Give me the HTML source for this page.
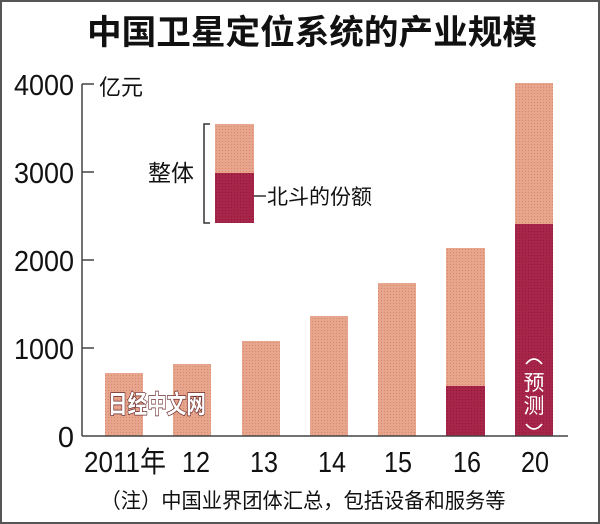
<!DOCTYPE html>
<html><head><meta charset="utf-8"><style>
body{margin:0;background:#fff}
svg{display:block}
text{font-family:"Liberation Sans","Noto Sans CJK SC",sans-serif}
</style></head><body>
<svg width="600" height="524" viewBox="0 0 600 524">
<defs>
<pattern id="lp" width="3" height="3" patternUnits="userSpaceOnUse"><rect width="3" height="3" fill="#e6a58c"/><rect width="1" height="1" fill="#d8886d"/></pattern>
<pattern id="dp" width="3" height="3" patternUnits="userSpaceOnUse"><rect width="3" height="3" fill="#a8254a"/><rect width="1" height="1" fill="#8e1a3c"/></pattern>
</defs>
<rect x="1" y="1" width="598" height="522" fill="#fff" stroke="#555" stroke-width="2"/>
<text x="312" y="44" font-size="34" font-weight="bold" text-anchor="middle" fill="#111" textLength="450" lengthAdjust="spacingAndGlyphs">中国卫星定位系统的产业规模</text>
<g font-size="29" fill="#111" text-anchor="end">
<text x="74" y="95" textLength="60" lengthAdjust="spacingAndGlyphs">4000</text><text x="74" y="183" textLength="60" lengthAdjust="spacingAndGlyphs">3000</text><text x="74" y="271" textLength="60" lengthAdjust="spacingAndGlyphs">2000</text><text x="74" y="359" textLength="60" lengthAdjust="spacingAndGlyphs">1000</text><text x="74" y="447">0</text>
</g>
<text x="99" y="95" font-size="22" fill="#111">亿元</text>
<g stroke="#444" stroke-width="1.5">
<line x1="82" y1="84" x2="82" y2="436"/>
<line x1="82" y1="84" x2="94" y2="84"/><line x1="82" y1="172" x2="94" y2="172"/><line x1="82" y1="260" x2="94" y2="260"/><line x1="82" y1="348" x2="94" y2="348"/>
</g>
<g fill="url(#lp)">
<rect x="105" y="373" width="38" height="63"/>
<rect x="173" y="364" width="38" height="72"/>
<rect x="242" y="341" width="38" height="95"/>
<rect x="310" y="316" width="38" height="120"/>
<rect x="378" y="283" width="38" height="153"/>
<rect x="446" y="248" width="39" height="138"/>
<rect x="515" y="83" width="38" height="141"/>
<rect x="215" y="124" width="39" height="49"/>
</g>
<g fill="url(#dp)">
<rect x="446" y="386" width="39" height="50"/>
<rect x="515" y="224" width="38" height="212"/>
<rect x="215" y="173" width="39" height="50"/>
</g>
<line x1="82" y1="436" x2="568" y2="436" stroke="#444" stroke-width="1.5"/>
<g fill="none" stroke="#fff" stroke-width="1.8">
<path d="M526 364 Q534 354 542 364"/>
<path d="M526 424 Q534 434 542 424"/>
</g>
<g fill="#fff" font-size="21" text-anchor="middle">
<text x="534" y="390">预</text><text x="534" y="413">测</text>
</g>
<text x="157" y="413" font-size="25" font-weight="bold" fill="#fff" stroke="#6a2b2b" stroke-width="1.5" text-anchor="middle" paint-order="stroke" textLength="98" lengthAdjust="spacingAndGlyphs">日经中文网</text>
<path d="M210 124H204V223H210" fill="none" stroke="#333" stroke-width="1.5"/>
<line x1="254" y1="196" x2="266" y2="196" stroke="#333" stroke-width="1.5"/>
<text x="148" y="181" font-size="23" fill="#111">整体</text>
<text x="267" y="204" font-size="21" fill="#111">北斗的份额</text>
<g font-size="29" fill="#111" text-anchor="middle">
<text x="125" y="472" textLength="82" lengthAdjust="spacingAndGlyphs">2011年</text><text x="196" y="472" textLength="28" lengthAdjust="spacingAndGlyphs">12</text><text x="264" y="472" textLength="28" lengthAdjust="spacingAndGlyphs">13</text><text x="332" y="472" textLength="28" lengthAdjust="spacingAndGlyphs">14</text><text x="398" y="472" textLength="28" lengthAdjust="spacingAndGlyphs">15</text><text x="467" y="472" textLength="28" lengthAdjust="spacingAndGlyphs">16</text><text x="535" y="472" textLength="28" lengthAdjust="spacingAndGlyphs">20</text>
</g>
<text x="303" y="508" font-size="21" fill="#111" text-anchor="middle" textLength="405" lengthAdjust="spacingAndGlyphs">（注）中国业界团体汇总，包括设备和服务等</text>
</svg>
</body></html>
